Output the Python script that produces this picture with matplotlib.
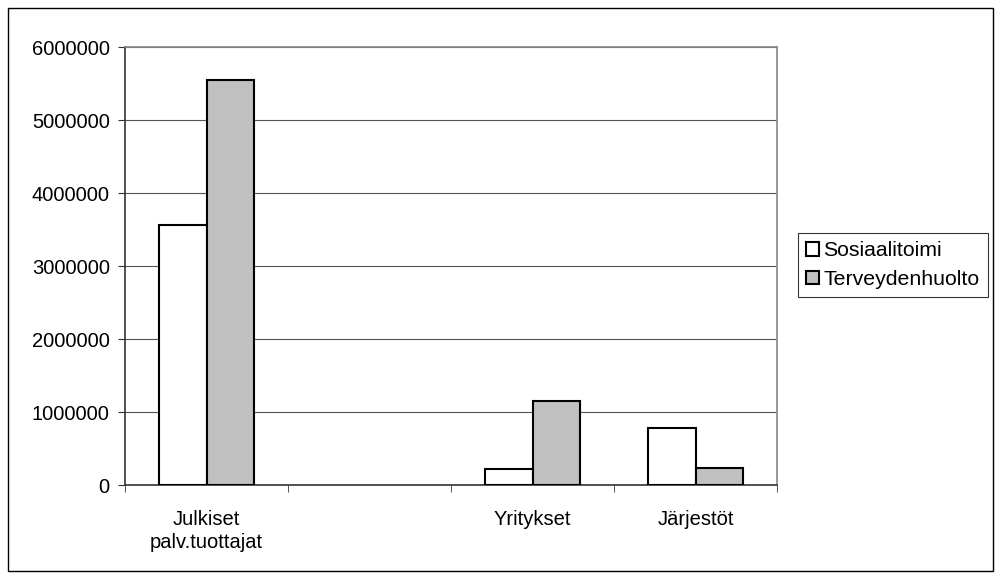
import numpy as np
import matplotlib
matplotlib.use("Agg")
import matplotlib.pyplot as plt
from matplotlib.patches import Rectangle

# Data
categories = ["Julkiset\npalv.tuottajat", "", "Yritykset", "Järjestöt"]
series_names = ["Sosiaalitoimi", "Terveydenhuolto"]
sosiaalitoimi = [3560000, np.nan, 220000, 780000]
terveydenhuolto = [5550000, np.nan, 1150000, 240000]

plt.rcParams["font.family"] = ["Liberation Sans", "DejaVu Sans"]
plt.rcParams["font.size"] = 14.5

fig = plt.figure(figsize=(10, 5.79), dpi=100)
ax = fig.add_axes([0.125, 0.1623, 0.652, 0.7565])

# Outer chart border
fig.patches.append(Rectangle((0.008, 0.014), 0.985, 0.972, transform=fig.transFigure,
                             fill=False, edgecolor="black", linewidth=1.0))

x = np.arange(len(categories))
w = 0.29
ax.bar(x - w / 2, sosiaalitoimi, w, color="white", edgecolor="black", linewidth=1.5,
       label=series_names[0], zorder=3)
ax.bar(x + w / 2, terveydenhuolto, w, color="#c0c0c0", edgecolor="black", linewidth=1.5,
       label=series_names[1], zorder=3)

ax.set_xlim(-0.5, len(categories) - 0.5)
ax.set_ylim(0, 6000000)
ax.set_yticks(np.arange(0, 6000001, 1000000))
ax.set_yticklabels([str(v) for v in range(0, 6000001, 1000000)])
ax.yaxis.grid(True, color="#555555", linewidth=0.8, zorder=0)

# category labels in the middle, tick marks on the boundaries
ax.set_xticks(x)
ax.set_xticklabels(categories, va="top", linespacing=1.25)
ax.tick_params(axis="x", length=0, pad=18)
ax.set_xticks(np.arange(-0.5, len(categories), 1), minor=True)
ax.tick_params(axis="x", which="minor", length=5, direction="out", color="#333333")
ax.tick_params(axis="y", length=5, direction="out", color="#333333", pad=6)

for s in ["left", "bottom"]:
    ax.spines[s].set_color("#333333")
    ax.spines[s].set_linewidth(1.2)
for s in ["top", "right"]:
    ax.spines[s].set_color("#888888")
    ax.spines[s].set_linewidth(1.2)

leg = ax.legend(loc="center left", bbox_to_anchor=(1.032, 0.502), frameon=True, fancybox=False,
                edgecolor="black", handlelength=0.6, handleheight=0.6, handletextpad=0.2,
                borderpad=0.4, labelspacing=0.45, borderaxespad=0, fontsize=15.3)
leg.get_frame().set_linewidth(0.8)

fig.savefig("out.png", dpi=100)
